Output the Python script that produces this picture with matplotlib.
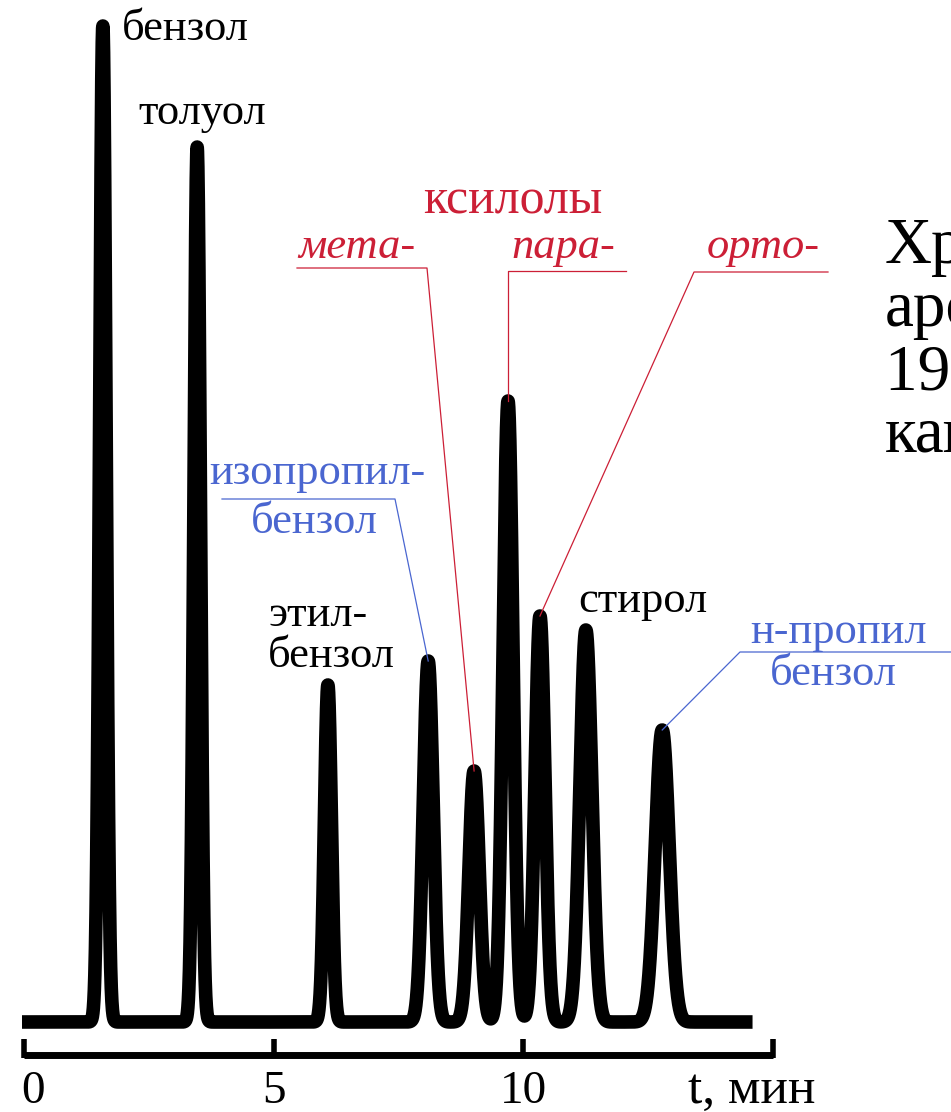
import numpy as np
import matplotlib.pyplot as plt

plt.rcParams['font.family'] = ['Liberation Serif', 'DejaVu Serif']

# пики хроматограммы: время удерживания (мин), высота, полуширина (мин)
names = ["бензол", "толуол", "этилбензол", "изопропилбензол", "м-ксилол",
         "п-ксилол", "о-ксилол", "стирол", "н-пропилбензол"]
t_peak = [1.58, 3.47, 6.09, 8.10, 9.02, 9.70, 10.34, 11.26, 12.79]
height = [996, 875, 337, 361, 251, 621, 406, 392, 292]
sigma = [0.065, 0.065, 0.07, 0.10, 0.105, 0.10, 0.10, 0.12, 0.14]

t_start, t_end = -0.04, 14.6
scale_ticks = [0, 5, 10, 15]
scale_labels = ["0", "5", "10"]

RED = "#cc1f36"
BLUE = "#4a66d0"

fig = plt.figure(figsize=(9.51, 11.12), dpi=100)
ax = fig.add_axes([0, 0, 1, 1])
# 1 мин = 49.9 px, нулевая линия на 1022 px от верха
ax.set_xlim(-24 / 49.9, (951 - 24) / 49.9)
ax.set_ylim(1022 - 1112, 1022)
ax.axis("off")


def px(x, y):
    return (x - 24) / 49.9, 1022 - y


t = np.linspace(t_start, t_end, 6000)
signal = np.zeros_like(t)
for tp, h, s in zip(t_peak, height, sigma):
    signal += h * np.exp(-0.5 * ((t - tp) / s) ** 2)
ax.plot(t, signal, color="black", lw=9.8, solid_joinstyle="round",
        solid_capstyle="butt")

# шкала времени
ax.plot([scale_ticks[0], scale_ticks[-1]], [-33, -33], color="black", lw=5,
        solid_capstyle="butt")
for tk in scale_ticks:
    ax.plot([tk, tk], [-17, -36], color="black", lw=4, solid_capstyle="butt")
for tk, lab in zip(scale_ticks, scale_labels):
    ax.text(tk + (0.18 if tk == 0 else 0), -81, lab, ha="center",
            va="baseline", fontsize=34)
ax.text(*px(752, 1103), "t, мин", ha="center", va="baseline", fontsize=37)

fs = 32


def peak(i):
    return t_peak[i], height[i]


# подписи чёрным
ax.text(*px(122, 40), "бензол", fontsize=fs, va="baseline")
ax.text(*px(138, 124), "толуол", fontsize=fs, va="baseline")
ax.text(*px(268, 626), "этил-", fontsize=fs, va="baseline")
ax.text(*px(268, 667), "бензол", fontsize=fs, va="baseline")
ax.text(*px(578, 612), "стирол", fontsize=fs, va="baseline")

# ксилолы
ax.text(*px(513, 214), "ксилолы", fontsize=36, color=RED, ha="center",
        va="baseline")
ax.text(*px(357, 258), "мета-", fontsize=fs, color=RED, style="italic",
        ha="center", va="baseline")
ax.text(*px(563, 258), "пара-", fontsize=fs, color=RED, style="italic",
        ha="center", va="baseline")
ax.text(*px(763, 258), "орто-", fontsize=fs, color=RED, style="italic",
        ha="center", va="baseline")

x0, y0 = px(297, 268)
x1, y1 = px(427, 268)
ax.plot([x0, x1, peak(4)[0]], [y0, y1, peak(4)[1]], color=RED, lw=0.9)
x0, y0 = px(626, 271)
ax.plot([x0, peak(5)[0], peak(5)[0]], [y0, y0, peak(5)[1]], color=RED, lw=0.9)
x0, y0 = px(828, 272)
x1, y1 = px(694, 272)
ax.plot([x0, x1, peak(6)[0]], [y0, y1, peak(6)[1]], color=RED, lw=0.9)

# синие подписи
ax.text(*px(317, 484), "изопропил-", fontsize=fs, color=BLUE, ha="center",
        va="baseline")
ax.text(*px(314, 533), "бензол", fontsize=fs, color=BLUE, ha="center",
        va="baseline")
x0, y0 = px(222, 499)
x1, y1 = px(395, 499)
ax.plot([x0, x1, peak(3)[0]], [y0, y1, peak(3)[1]], color=BLUE, lw=0.9)

ax.text(*px(838, 643), "н-пропил", fontsize=fs, color=BLUE, ha="center",
        va="baseline")
ax.text(*px(833, 685), "бензол", fontsize=fs, color=BLUE, ha="center",
        va="baseline")
x0, y0 = px(951, 652)
x1, y1 = px(740, 652)
ax.plot([x0, x1, peak(8)[0]], [y0, y1, peak(8)[1]], color=BLUE, lw=0.9)

# заголовок справа, обрезан краем
for txt, yb in zip(["Хроматограмма", "ароматических", "1970-х годов",
                    "капиллярная"], [263, 326, 390, 452]):
    ax.text(*px(885, yb), txt, fontsize=47, va="baseline", clip_on=False)

fig.savefig("out.png", dpi=100)
